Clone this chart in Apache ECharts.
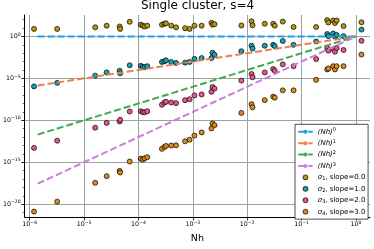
<!DOCTYPE html>
<html><head><meta charset="utf-8">
<script src="https://cdn.jsdelivr.net/npm/echarts@6/dist/echarts.min.js"></script>
<style>html,body{margin:0;padding:0;background:#fff}#c{width:374px;height:249px}</style>
</head><body><div id="c"></div>
<script>
// ---- data ----
const nh = [1.2e-6, 3.2e-6, 1.6e-5, 2.6e-5, 4.5e-5, 4.6e-5, 6.9e-5, 1.1e-4, 1.2e-4, 1.3e-4,
  1.45e-4, 2.7e-4, 3.0e-4, 3.2e-4, 4.0e-4, 4.9e-4, 7.2e-4, 8.7e-4, 1.07e-3, 1.45e-3,
  2.2e-3, 2.3e-3, 2.5e-3, 7.8e-3, 1.2e-2, 1.25e-2, 2.1e-2, 3.0e-2, 3.2e-2, 4.5e-2,
  7.1e-2, 0.185, 0.295, 0.31, 0.38, 0.41, 0.44, 0.59, 1.26];
const sigma1 = [7.8, 7.8, 12, 19, 15, 7.8, 55, 25, 19, 15,
  19, 25, 32, 36, 19, 12, 9.5, 7.8, 19, 19,
  42, 25, 28, 20, 63, 21, 32, 32, 19, 58,
  13, 13, 87, 45, 78, 39, 78, 17, 48];
const sigma2 = [1.1e-6, 2.9e-6, 2.1e-5, 5.1e-5, 8.1e-5, 4.0e-5, 3.6e-4, 3.1e-4, 2.3e-4, 2.3e-4,
  2.8e-4, 8.9e-4, 1.05e-3, 1.4e-3, 8.9e-4, 6.9e-4, 7.4e-4, 8.9e-4, 2.1e-3, 2.6e-3,
  2.6e-3, 1.1e-2, 6.3e-3, 1.7e-2, 7.9e-2, 3.5e-2, 7.6e-2, 9.8e-2, 6.9e-2, 0.28,
  9.8e-2, 0.25, 1.9, 1.07, 2.2, 0.93, 1.5, 1.07, 6.5];
const sigma3 = [5.1e-14, 3.7e-13, 1.3e-11, 4.9e-11, 7.2e-11, 1.15e-10, 1.1e-9, 1.2e-9, 9.1e-10, 9.1e-10,
  1.2e-9, 7.1e-9, 1.3e-8, 1.6e-8, 1.3e-8, 1.1e-8, 2.5e-8, 3.2e-8, 9.3e-8, 1.2e-7,
  2.5e-7, 9.3e-7, 6.0e-7, 5.4e-6, 3.3e-5, 1.35e-5, 5.1e-5, 1.26e-4, 8.1e-5, 4.7e-4,
  2.8e-4, 2.0e-3, 4.1e-2, 2.0e-2, 3.1e-2, 1.5e-2, 4.1e-2, 2.4e-2, 0.30];
const sigma4 = [1.3e-21, 2.0e-20, 3.5e-18, 2.2e-17, 9.3e-17, 6.0e-17, 1.2e-15, 2.7e-15, 2.1e-15, 2.9e-15,
  4.0e-15, 3.9e-14, 6.6e-14, 8.7e-14, 9.8e-14, 1.05e-13, 3.1e-13, 4.8e-13, 1.5e-12, 3.6e-12,
  1.07e-11, 4.1e-11, 2.6e-11, 7.6e-10, 8.3e-9, 3.5e-9, 2.5e-8, 6.6e-8, 5.0e-8, 3.7e-7,
  3.7e-7, 6.6e-6, 1.15e-4, 1.5e-4, 2.8e-4, 1.15e-4, 2.8e-4, 2.8e-4, 6.8e-3];
const refX  = [1.4e-6, 1];
const ref0  = [1, 1];
const ref1  = [1.4e-6, 1];
const ref2  = [1.96e-12, 1];
const ref3  = [2.74e-18, 1];
const refExp = ['0', '1', '2', '3'];
const slopes = ['0.0', '1.0', '2.0', '3.0'];
const xTicks = [1e-6, 1e-5, 1e-4, 1e-3, 1e-2, 1e-1, 1];
const yTicks = [1e-20, 1e-15, 1e-10, 1e-5, 1];
const yMinor = [1e-21,1e-20,1e-19,1e-18,1e-17,1e-16,1e-15,1e-14,1e-13,1e-12,1e-11,1e-10,1e-9,1e-8,1e-7,1e-6,1e-5,1e-4,1e-3,1e-2,1e-1,1,1e1,1e2];

// ---- styling ----
const lineColors = ['#1f9bf0', '#f07f50', '#43a94f', '#c97fdc'];
const dotColors  = ['#b8950f', '#13a3b0', '#e8568f', '#dc8a1c'];
const FONT = 'DejaVu Sans';
const L = Math.log10;
const XMIN = -6.092, XMAX = 0.257, YMIN = -21.53, YMAX = 2.55;

function powLabel(v) {
  const e = Math.round(v);
  return '{b|10}{s|' + (e < 0 ? '\u2212' : '') + Math.abs(e) + '}';
}
const tickRich = {
  b: {fontFamily: FONT, fontSize: 6.3, lineHeight: 9, color: '#000'},
  s: {fontFamily: FONT, fontSize: 4.6, lineHeight: 4, verticalAlign: 'top', color: '#000'}
};

const refData = [ref0, ref1, ref2, ref3];
const sigmas = [sigma1, sigma2, sigma3, sigma4];
const refNames = refExp.map(k => '(Nh)^' + k);
const sigNames = slopes.map((s, i) => 'sigma' + (i + 1) + ', slope=' + s);

const series = [];
refData.forEach((d, i) => series.push({
  name: refNames[i], type: 'line', symbol: 'none', showSymbol: false, z: 4,
  data: refX.map((x, j) => [L(x), L(d[j])]),
  lineStyle: {color: lineColors[i], width: 2, type: [7, 3]},
  itemStyle: {color: lineColors[i]}
}));
sigmas.forEach((d, i) => series.push({
  name: sigNames[i], type: 'scatter', symbol: 'circle', symbolSize: 5, z: 3,
  data: nh.map((x, j) => [L(x), L(d[j])]),
  itemStyle: {color: dotColors[i], borderColor: '#000', borderWidth: 0.7, opacity: 1}
}));

const legendFmt = {};
refNames.forEach((n, i) => legendFmt[n] = '{it|(Nh)}{sup|' + refExp[i] + '}');
sigNames.forEach((n, i) => legendFmt[n] = '{it|\u03c3}{sub|' + (i + 1) + '}{t|, slope=' + slopes[i] + '}');

const chart = echarts.init(document.getElementById('c'), null, {renderer: 'canvas'});
chart.setOption({
  animation: false,
  backgroundColor: '#fff',
  title: {text: 'Single cluster, s=4', left: 141, top: 0, padding: 0,
    textStyle: {fontFamily: FONT, fontSize: 12, fontWeight: 'normal', color: '#000'}},
  grid: {left: 24, right: 4, top: 15, bottom: 26.3, containLabel: false},
  xAxis: [{
    type: 'value', min: XMIN, max: XMAX, position: 'bottom',
    name: 'Nh', nameLocation: 'middle', nameGap: 17,
    nameTextStyle: {fontFamily: FONT, fontSize: 9.5, color: '#000'},
    axisLine: {show: true, onZero: false, lineStyle: {color: '#000', width: 1}},
    axisTick: {show: true, length: 3.5, lineStyle: {color: '#000', width: 0.8}, customValues: xTicks.map(L)},
    axisLabel: {show: true, margin: 3, customValues: xTicks.map(L), formatter: powLabel, rich: tickRich},
    splitLine: {show: true, lineStyle: {color: '#a0a0a0', width: 1}}
  }],
  yAxis: [{
    type: 'value', min: YMIN, max: YMAX, position: 'left',
    axisLine: {show: true, onZero: false, lineStyle: {color: '#000', width: 1}},
    axisTick: {show: true, length: 3.5, lineStyle: {color: '#000', width: 0.8}, customValues: yTicks.map(L)},
    axisLabel: {show: true, margin: 4, customValues: yTicks.map(L), formatter: powLabel, rich: tickRich},
    splitLine: {show: true, lineStyle: {color: '#a0a0a0', width: 1}}
  }, {
    type: 'value', min: YMIN, max: YMAX, position: 'left', gridIndex: 0,
    axisLine: {show: false, onZero: false}, axisLabel: {show: false}, splitLine: {show: false},
    axisTick: {show: true, length: 2, lineStyle: {color: '#000', width: 0.6}, customValues: yMinor.map(L)}
  }],
  legend: {
    orient: 'vertical', left: 295, top: 124.3,
    padding: [3.4, 2.7, 3.4, 2.3], itemGap: 3.43, itemWidth: 14.4, itemHeight: 5,
    backgroundColor: '#fff', borderColor: '#222', borderWidth: 0.8, borderRadius: 0,
    data: refNames.map(n => ({name: n})).concat(sigNames.map((n, i) => ({
      name: n, icon: 'circle', itemStyle: {color: dotColors[i], borderColor: '#000', borderWidth: 0.7}}))),
    formatter: n => legendFmt[n],
    textStyle: {fontFamily: FONT, fontSize: 7, lineHeight: 8, color: '#000',
      rich: {
        it: {fontFamily: FONT, fontSize: 7, fontStyle: 'italic', lineHeight: 8, color: '#000'},
        t: {fontFamily: FONT, fontSize: 7, lineHeight: 8, color: '#000'},
        sup: {fontFamily: FONT, fontSize: 5, lineHeight: 4, verticalAlign: 'top', color: '#000'},
        sub: {fontFamily: FONT, fontSize: 5, lineHeight: 4, verticalAlign: 'bottom', color: '#000'}
      }}
  },
  series: series
});
</script></body></html>
